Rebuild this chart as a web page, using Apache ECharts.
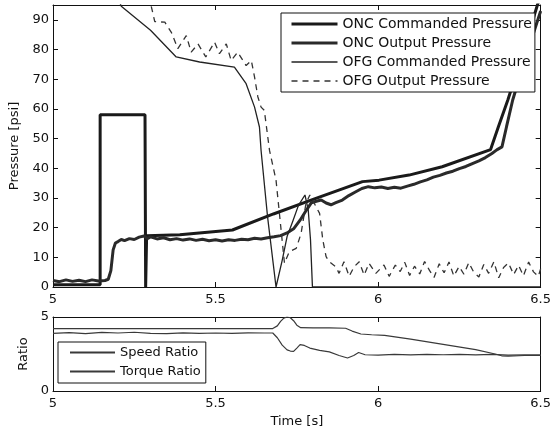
<!DOCTYPE html>
<html>
<head>
<meta charset="utf-8">
<script src="https://cdn.jsdelivr.net/npm/echarts@6/dist/echarts.min.js"></script>
<style>
  html, body { margin: 0; padding: 0; background: #fff; }
  #chart { width: 554px; height: 434px; }
</style>
</head>
<body>
<div id="chart"></div>
<script>
// ---- Data: time [s] vs pressure [psi] ----
const oncCommanded = [
  [5.00, 0.8], [5.145, 0.8], [5.145, 58], [5.283, 58], [5.285, 0], [5.288, 17.3],
  [5.39, 17.6], [5.552, 19.2], [5.678, 24.6], [5.80, 29.5], [5.952, 35.5],
  [6.003, 36.0], [6.095, 37.7], [6.197, 40.5], [6.346, 46.3], [6.37, 54],
  [6.399, 63], [6.44, 77], [6.49, 95], [6.50, 98]
];
const oncOutput = [
  [5.00, 2.2], [5.02, 1.8], [5.04, 2.4], [5.06, 1.9], [5.08, 2.3], [5.10, 1.8],
  [5.12, 2.4], [5.14, 2.0], [5.16, 2.2], [5.170, 2.6], [5.178, 5.5], [5.185, 12.5],
  [5.192, 14.8], [5.20, 15.3], [5.21, 16.0], [5.22, 15.6], [5.235, 16.3], [5.25, 16.0],
  [5.265, 16.8], [5.28, 17.2], [5.29, 16.3], [5.30, 16.9], [5.32, 16.2], [5.34, 16.6],
  [5.36, 15.9], [5.38, 16.3], [5.40, 15.8], [5.42, 16.2], [5.44, 15.7], [5.46, 16.1],
  [5.48, 15.6], [5.50, 15.9], [5.52, 15.5], [5.54, 15.9], [5.56, 15.7], [5.58, 16.1],
  [5.60, 15.9], [5.62, 16.4], [5.64, 16.2], [5.66, 16.6], [5.68, 16.9], [5.70, 17.3],
  [5.72, 18.2], [5.74, 19.6], [5.76, 22.5], [5.78, 26.0], [5.795, 28.4], [5.81, 28.9],
  [5.825, 29.3], [5.84, 28.3], [5.855, 27.7], [5.87, 28.4], [5.89, 29.3], [5.91, 30.8],
  [5.93, 32.0], [5.95, 33.2], [5.97, 33.8], [5.99, 33.4], [6.01, 33.7], [6.03, 33.2],
  [6.05, 33.6], [6.07, 33.3], [6.09, 34.0], [6.11, 34.6], [6.13, 35.4], [6.15, 36.1],
  [6.17, 37.0], [6.19, 37.6], [6.21, 38.4], [6.23, 39.0], [6.25, 39.9], [6.27, 40.6],
  [6.29, 41.6], [6.31, 42.5], [6.33, 43.6], [6.35, 45.0], [6.365, 46.2], [6.381, 47.2],
  [6.395, 54], [6.414, 63], [6.45, 76], [6.50, 93]
];
const ofgCommanded = [
  [5.19, 100], [5.21, 94.6], [5.30, 86.5], [5.379, 77.5], [5.451, 75.8], [5.558, 74.1],
  [5.594, 68.5], [5.62, 60.6], [5.635, 53.9], [5.64, 46], [5.66, 23.6], [5.686, 0],
  [5.692, 0], [5.705, 9], [5.72, 17], [5.737, 22], [5.755, 27.5], [5.775, 31],
  [5.785, 26], [5.792, 16], [5.798, 0], [6.50, 0]
];
const ofgOutput = [
  [5.29, 98], [5.303, 94.2], [5.313, 89.4], [5.344, 89.2], [5.364, 85.8], [5.384, 80.3],
  [5.41, 84.7], [5.425, 79.1], [5.446, 81.9], [5.47, 77.5], [5.497, 82.5], [5.512, 78.6],
  [5.533, 81.9], [5.548, 76.3], [5.568, 79.1], [5.594, 74.6], [5.61, 76.3], [5.62, 70.7],
  [5.63, 64.1], [5.64, 60.6], [5.65, 59.5], [5.666, 46], [5.686, 36], [5.712, 8],
  [5.727, 11.9], [5.748, 13], [5.763, 18], [5.778, 28.1], [5.79, 31], [5.82, 24.8],
  [5.83, 15.8], [5.84, 10.2], [5.85, 8.5], [5.87, 6.8], [5.88, 4.6], [5.895, 8.5],
  [5.911, 3.6], [5.926, 6.8], [5.942, 8.5], [5.957, 4.0], [5.972, 8.0], [5.993, 4.6],
  [6.018, 7.4], [6.034, 3.6], [6.053, 7.4], [6.068, 5.2], [6.082, 8.3], [6.097, 3.9],
  [6.112, 7.0], [6.128, 4.4], [6.143, 8.6], [6.158, 5.6], [6.172, 3.2], [6.188, 7.8],
  [6.203, 4.8], [6.218, 8.4], [6.233, 3.7], [6.249, 6.9], [6.264, 4.3], [6.279, 8.2],
  [6.294, 5.0], [6.31, 3.4], [6.325, 7.6], [6.34, 4.6], [6.356, 8.5], [6.371, 3.1],
  [6.386, 6.6], [6.401, 8.1], [6.417, 4.2], [6.432, 7.3], [6.447, 3.8], [6.463, 8.4],
  [6.478, 5.1], [6.493, 3.6], [6.50, 6.2]
];

// ---- Data: time [s] vs ratio ----
const speedRatio = [
  [5.00, 4.22], [5.676, 4.22], [5.69, 4.4], [5.70, 4.7], [5.71, 4.92], [5.72, 5.0],
  [5.73, 4.95], [5.74, 4.75], [5.75, 4.45], [5.762, 4.28], [5.80, 4.26], [5.85, 4.27],
  [5.90, 4.24], [5.92, 4.05], [5.947, 3.85], [5.98, 3.8], [6.02, 3.76], [6.10, 3.5],
  [6.20, 3.15], [6.30, 2.8], [6.36, 2.5], [6.38, 2.38], [6.40, 2.36], [6.45, 2.4],
  [6.50, 2.4]
];
const torqueRatio = [
  [5.00, 3.9], [5.05, 3.95], [5.10, 3.88], [5.15, 3.96], [5.20, 3.92], [5.25, 3.97],
  [5.30, 3.9], [5.35, 3.88], [5.40, 3.93], [5.45, 3.9], [5.50, 3.92], [5.55, 3.9],
  [5.60, 3.93], [5.65, 3.92], [5.676, 3.92], [5.69, 3.6], [5.705, 3.1], [5.72, 2.78],
  [5.73, 2.7], [5.74, 2.68], [5.75, 2.9], [5.76, 3.13], [5.773, 3.08], [5.79, 2.9],
  [5.82, 2.75], [5.85, 2.64], [5.88, 2.4], [5.906, 2.23], [5.925, 2.4], [5.94, 2.6],
  [5.96, 2.45], [6.00, 2.43], [6.05, 2.47], [6.10, 2.44], [6.15, 2.48], [6.20, 2.45],
  [6.25, 2.47], [6.30, 2.44], [6.35, 2.47], [6.40, 2.42], [6.45, 2.45], [6.50, 2.44]
];

// ---- Axis settings ----
const timeRange = [5, 6.5, 0.5];
const pressureRange = [0, 95, 10];
const ratioRange = [0, 5, 5];

const FONT = 'DejaVu Sans';
const INK = '#111';
const THICK = 3;
const THIN = 1.3;

function axisBase(extra) {
  return Object.assign({
    type: 'value',
    axisLine: { show: true, onZero: false, lineStyle: { color: INK, width: 1 } },
    axisTick: { show: true, inside: true, length: 5, lineStyle: { color: INK } },
    splitLine: { show: false },
    axisLabel: { color: INK, fontFamily: FONT, fontSize: 13, margin: 5 },
    nameTextStyle: { color: INK, fontFamily: FONT, fontSize: 13 }
  }, extra);
}
function mirror(extra) {
  return axisBase(Object.assign({ axisLabel: { show: false } }, extra));
}

const chart = echarts.init(document.getElementById('chart'), null, { renderer: 'canvas' });

chart.setOption({
  animation: false,
  backgroundColor: '#fff',
  grid: [
    { left: 53, right: 12, top: 5, height: 282 },
    { left: 53, right: 12, top: 317, height: 74 }
  ],
  xAxis: [
    axisBase({ gridIndex: 0, min: timeRange[0], max: timeRange[1], interval: timeRange[2], position: 'bottom',
      axisLabel: { color: INK, fontFamily: FONT, fontSize: 13, margin: 6 } }),
    mirror({ gridIndex: 0, min: timeRange[0], max: timeRange[1], interval: timeRange[2], position: 'top' }),
    axisBase({ gridIndex: 1, min: timeRange[0], max: timeRange[1], interval: timeRange[2], position: 'bottom',
      name: 'Time [s]', nameLocation: 'middle', nameGap: 24,
      axisLabel: { color: INK, fontFamily: FONT, fontSize: 13, margin: 6 } }),
    mirror({ gridIndex: 1, min: timeRange[0], max: timeRange[1], interval: timeRange[2], position: 'top' })
  ],
  yAxis: [
    axisBase({ gridIndex: 0, min: pressureRange[0], max: pressureRange[1], interval: pressureRange[2], position: 'left',
      name: 'Pressure [psi]', nameLocation: 'middle', nameGap: 31,
      axisLabel: { color: INK, fontFamily: FONT, fontSize: 13, margin: 4, showMaxLabel: false } }),
    mirror({ gridIndex: 0, min: pressureRange[0], max: pressureRange[1], interval: pressureRange[2], position: 'right' }),
    axisBase({ gridIndex: 1, min: ratioRange[0], max: ratioRange[1], interval: ratioRange[2], position: 'left',
      name: 'Ratio', nameLocation: 'middle', nameGap: 15,
      axisLabel: { color: INK, fontFamily: FONT, fontSize: 13, margin: 4 } }),
    mirror({ gridIndex: 1, min: ratioRange[0], max: ratioRange[1], interval: ratioRange[2], position: 'right' })
  ],
  legend: [
    {
      left: 281, top: 13, orient: 'vertical',
      data: [
        { name: 'ONC Commanded Pressure', lineStyle: { width: THICK } },
        { name: 'ONC Output Pressure', lineStyle: { width: THICK } },
        { name: 'OFG Commanded Pressure', lineStyle: { width: THIN } },
        { name: 'OFG Output Pressure', lineStyle: { width: THIN } }
      ],
      itemWidth: 46, itemHeight: 14, itemGap: 5,
      padding: [4, 3, 4, 9],
      borderColor: INK, borderWidth: 1, backgroundColor: '#fff',
      selectedMode: false,
      itemStyle: { opacity: 0 },
      textStyle: { color: INK, fontFamily: FONT, fontSize: 14 }
    },
    {
      left: 58, top: 342, orient: 'vertical',
      data: ['Speed Ratio', 'Torque Ratio'],
      itemWidth: 45, itemHeight: 14, itemGap: 6,
      padding: [4, 5, 5, 11],
      borderColor: INK, borderWidth: 1, backgroundColor: '#fff',
      selectedMode: false,
      itemStyle: { opacity: 0 },
      textStyle: { color: INK, fontFamily: FONT, fontSize: 13 }
    }
  ],
  series: [
    { name: 'ONC Commanded Pressure', type: 'line', xAxisIndex: 0, yAxisIndex: 0, data: oncCommanded,
      symbol: 'none', clip: true, color: '#1a1a1a', lineStyle: { color: '#1a1a1a', width: THICK } },
    { name: 'ONC Output Pressure', type: 'line', xAxisIndex: 0, yAxisIndex: 0, data: oncOutput,
      symbol: 'none', clip: true, color: '#2a2a2a', lineStyle: { color: '#2a2a2a', width: THICK } },
    { name: 'OFG Commanded Pressure', type: 'line', xAxisIndex: 0, yAxisIndex: 0, data: ofgCommanded,
      symbol: 'none', clip: true, color: '#222', lineStyle: { color: '#222', width: THIN } },
    { name: 'OFG Output Pressure', type: 'line', xAxisIndex: 0, yAxisIndex: 0, data: ofgOutput,
      symbol: 'none', clip: true, color: '#333', lineStyle: { color: '#333', width: THIN, type: [6, 5] } },
    { name: 'Speed Ratio', type: 'line', xAxisIndex: 2, yAxisIndex: 2, data: speedRatio,
      symbol: 'none', clip: true, color: '#3a3a3a', lineStyle: { color: '#3a3a3a', width: 1.2 } },
    { name: 'Torque Ratio', type: 'line', xAxisIndex: 2, yAxisIndex: 2, data: torqueRatio,
      symbol: 'none', clip: true, color: '#3a3a3a', lineStyle: { color: '#3a3a3a', width: 1.2 } }
  ]
});
</script>
</body>
</html>
